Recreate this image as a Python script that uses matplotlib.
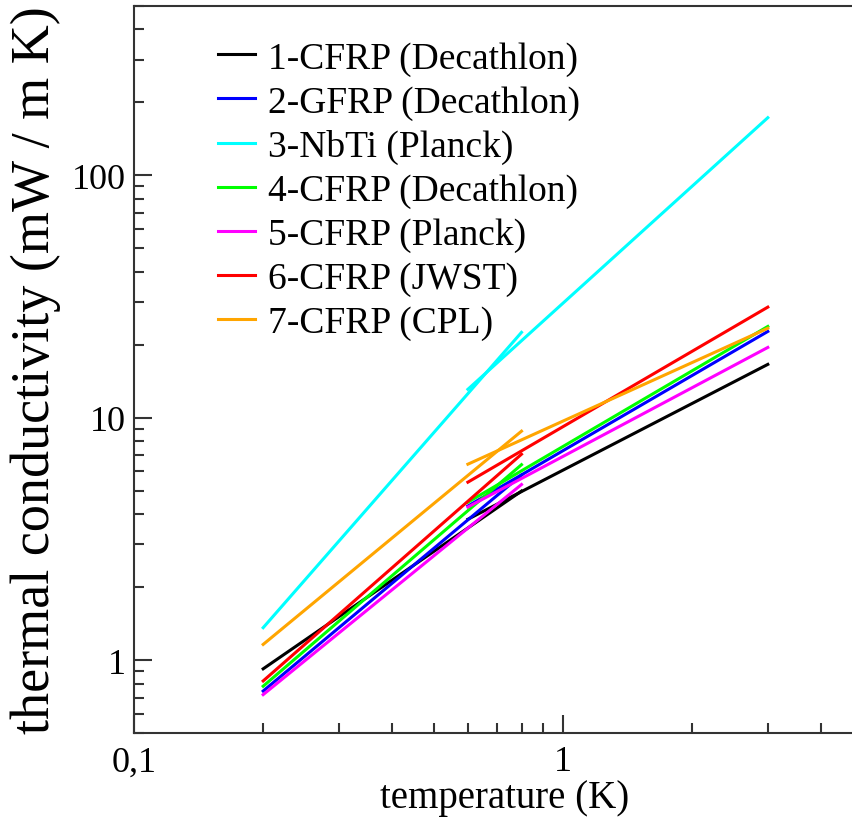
import matplotlib
matplotlib.use("Agg")
import matplotlib.pyplot as plt
from matplotlib.ticker import LogLocator, FuncFormatter, NullFormatter

plt.rcParams['font.family'] = ['Liberation Serif', 'DejaVu Serif']

# materials (legend order)
labels = ["1-CFRP (Decathlon)", "2-GFRP (Decathlon)", "3-NbTi (Planck)",
          "4-CFRP (Decathlon)", "5-CFRP (Planck)", "6-CFRP (JWST)", "7-CFRP (CPL)"]
colors = ["black", "#0000ff", "#00ffff", "#00ff00", "#ff00ff", "#ff0000", "#ffa500"]

# low temperature fit range and values (mW / m K)
t_low = [0.2, 0.8]
k_low = [
    [0.92, 4.98],
    [0.745, 5.8],
    [1.36, 22.5],
    [0.78, 6.4],
    [0.72, 5.3],
    [0.82, 7.07],
    [1.16, 8.8],
]

# high temperature fit range and values
t_high = [0.6, 3.0]
k_high = [
    [3.81, 16.6],
    [4.32, 22.7],
    [13.1, 173.0],
    [4.48, 23.8],
    [4.28, 19.5],
    [5.42, 28.6],
    [6.43, 23.4],
]

fig = plt.figure(figsize=(8.53, 8.20), dpi=100)
ax = fig.add_axes([134/853, 86/820, 729/853, 727/820])

for i in range(len(labels)):
    ax.plot(t_low, k_low[i], color=colors[i], lw=2.2, label=labels[i])
    ax.plot(t_high, k_high[i], color=colors[i], lw=2.2)

ax.set_xscale("log")
ax.set_yscale("log")
ax.set_xlim(0.1, 5)
ax.set_ylim(0.5, 500)

ax.xaxis.set_major_locator(LogLocator(base=10, numticks=10))
ax.yaxis.set_major_locator(LogLocator(base=10, numticks=10))
ax.xaxis.set_minor_locator(LogLocator(base=10, subs=range(2, 10), numticks=20))
ax.yaxis.set_minor_locator(LogLocator(base=10, subs=range(2, 10), numticks=20))
fmt = FuncFormatter(lambda v, p: ("%g" % v).replace(".", ","))
ax.xaxis.set_major_formatter(fmt)
ax.yaxis.set_major_formatter(fmt)
ax.xaxis.set_minor_formatter(NullFormatter())
ax.yaxis.set_minor_formatter(NullFormatter())

ax.tick_params(which="both", direction="in", width=1.5, colors="#333333",
               labelcolor="black", labelsize=26, top=False, right=False)
ax.tick_params(which="major", length=13, pad=6)
ax.tick_params(which="minor", length=7)
ax.tick_params(axis="x", which="major", pad=9)
for s in ax.spines.values():
    s.set_linewidth(1.5)
    s.set_color("#333333")

ax.set_xlabel("temperature (K)", fontsize=28)
ax.xaxis.set_label_coords((505 - 134) / 729, -0.063)
ax.set_ylabel("thermal conductivity (mW / m K)", fontsize=39)
ax.yaxis.set_label_coords(-0.10, 0.5)

ax.legend(loc="upper left", bbox_to_anchor=(0.115, 0.952), frameon=False,
          fontsize=27, handlelength=1.0, handletextpad=0.35,
          labelspacing=0.25, borderpad=0, borderaxespad=0)

fig.savefig("out.png", dpi=100)
